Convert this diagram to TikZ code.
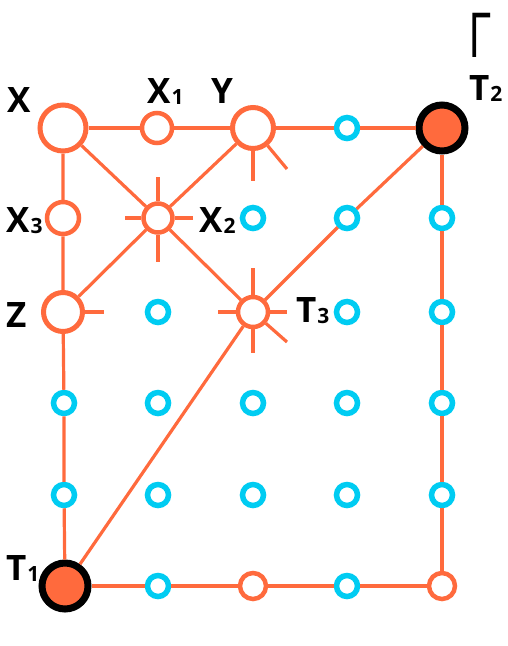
\documentclass[tikz,border=0pt]{standalone}
\usepackage{fontspec}
\setmainfont{Open Sans}
\definecolor{org}{HTML}{FF6A3D}
\definecolor{cyn}{HTML}{00CCF2}
\newcommand{\lbl}[2]{#1\kern1pt{\fontsize{21}{21}\selectfont\raisebox{-1.5pt}{#2}}}
\begin{document}
\begin{tikzpicture}[x=1pt,y=-1pt,
  edge/.style={draw=org,line width=3.2pt},
  onode/.style={circle,draw=org,fill=white,inner sep=0pt},
  big/.style={onode,line width=5pt,minimum size=44pt},
  mid/.style={onode,line width=4.5pt,minimum size=29pt},
  small/.style={onode,line width=4.5pt,minimum size=26pt},
  blu/.style={circle,draw=cyn,fill=white,line width=5.5pt,minimum size=21pt,inner sep=0pt},
  term/.style={circle,draw=black,fill=org,line width=7pt,minimum size=46pt,inner sep=0pt},
  lab/.style={anchor=base west,inner sep=0pt,font=\fontsize{35}{35}\selectfont\bfseries}]
\useasboundingbox (0,0) rectangle (508,646);
% rows 128 218 312 403 495 586 ; cols 64 158 253 347 442
\node[big,minimum size=46pt] (X) at (63,128) {};
\node[mid,minimum size=30pt] (X1) at (157,128) {};
\node[big,minimum size=41pt] (Y) at (253,128) {};
\node[blu] (b41) at (347,128) {};
\node[term] (T2) at (442,128) {};
\node[mid,minimum size=32pt] (X3) at (63,218) {};
\node[mid] (X2) at (158,218) {};
\node[blu] (b32) at (253,218) {};
\node[blu] (b42) at (347,218) {};
\node[blu] (b52) at (442,218) {};
\node[big,minimum size=39pt] (Z) at (63,312) {};
\node[blu] (b23) at (158,312) {};
\node[mid,minimum size=30pt] (T3) at (253,312) {};
\node[blu] (b43) at (347,312) {};
\node[blu] (b53) at (442,312) {};
\node[blu] (b14) at (64,403) {};
\node[blu] (b24) at (158,403) {};
\node[blu] (b34) at (253,403) {};
\node[blu] (b44) at (347,403) {};
\node[blu] (b54) at (442,403) {};
\node[blu] (b15) at (64,495) {};
\node[blu] (b25) at (158,495) {};
\node[blu] (b35) at (253,495) {};
\node[blu] (b45) at (347,495) {};
\node[blu] (b55) at (442,495) {};
\node[term] (T1) at (65,586) {};
\node[blu] (b26) at (158,586) {};
\node[small] (o36) at (253,586) {};
\node[blu] (b46) at (347,586) {};
\node[small] (o56) at (442,586) {};
% connectors
\draw[edge] (X) -- (X1) -- (Y) -- (b41) -- (T2);
\draw[edge] (T2) -- (b52) -- (b53) -- (b54) -- (b55) -- (o56);
\draw[edge] (X) -- (X3) -- (Z) -- (b14) -- (b15) -- (T1);
\draw[edge] (T1) -- (b26) -- (o36) -- (b46) -- (o56);
\draw[edge] (X) -- (X2) -- (T3);
\draw[edge] (Y) -- (X2) -- (Z);
\draw[edge] (T3) -- (b42) -- (T2);
\draw[edge] (T1) -- (T3);
% spikes
\coordinate (sY1) at (253,181);
\coordinate (sY2) at (287,169);
\draw[edge] (Y) -- (sY1);
\draw[edge] (Y) -- (sY2);
\coordinate (sX2u) at (158,177);
\coordinate (sX2d) at (158,262);
\coordinate (sX2l) at (125,218);
\coordinate (sX2r) at (193,218);
\draw[edge] (X2) -- (sX2u);
\draw[edge] (X2) -- (sX2d);
\draw[edge] (X2) -- (sX2l);
\draw[edge] (X2) -- (sX2r);
\coordinate (sZ) at (104,312);
\draw[edge] (Z) -- (sZ);
\coordinate (sT3u) at (253,268);
\coordinate (sT3d) at (253,353);
\coordinate (sT3l) at (218,312);
\coordinate (sT3r) at (287,312);
\coordinate (sT3dr) at (287,342);
\draw[edge] (T3) -- (sT3u);
\draw[edge] (T3) -- (sT3d);
\draw[edge] (T3) -- (sT3l);
\draw[edge] (T3) -- (sT3r);
\draw[edge] (T3) -- (sT3dr);
% labels
\node[lab] (lX) at (7,112) {X};
\node[lab] (lX1) at (147,103) {\lbl{X}{1}};
\node[lab] (lY) at (211,103) {Y};
\node[lab] (lX3) at (6,232) {\lbl{X}{3}};
\node[lab] (lX2) at (199,232) {\lbl{X}{2}};
\node[lab] (lZ) at (6,327) {Z};
\node[lab] (lT3) at (296,322) {\lbl{T}{3}};
\node[lab] (lT2) at (469,100) {\lbl{T}{2}};
\node[lab] (lT1) at (6,580) {\lbl{T}{1}};
\node[anchor=base west,inner sep=0pt,font=\fontsize{62}{62}\selectfont] (G) at (468,57) {\scalebox{0.72}[1]{Γ}};
\end{tikzpicture}
\end{document}
